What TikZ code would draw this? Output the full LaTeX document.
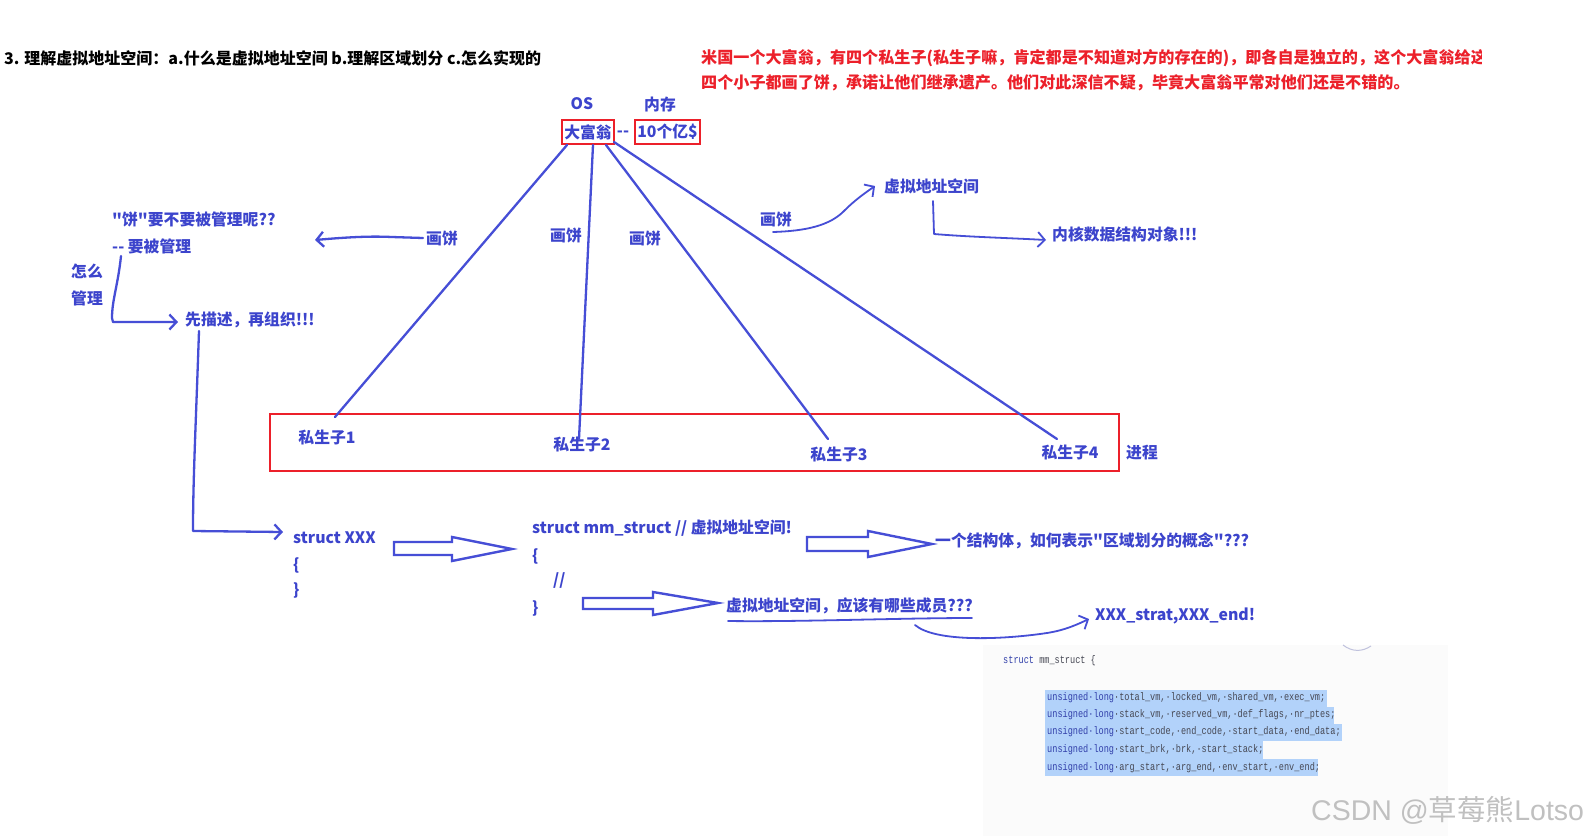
\documentclass[tikz,border=0pt]{standalone}
\usepackage{fontspec}
\newfontfamily\cjk{Noto Sans CJK SC}
\newfontfamily\codefont[FakeStretch=0.78]{Liberation Mono}
\newfontfamily\wmfont{Liberation Sans}
\usetikzlibrary{arrows.meta,calc}
\definecolor{hblue}{RGB}{70,78,214}
\definecolor{htext}{RGB}{60,68,204}
\definecolor{hred}{RGB}{236,32,42}
\definecolor{hlblue}{RGB}{178,210,250}
\definecolor{codekw}{RGB}{50,64,170}
\definecolor{codetxt}{RGB}{70,72,84}
\definecolor{wmgray}{RGB}{192,192,192}
\begin{document}
\begin{tikzpicture}[x=1pt,y=-1pt,
  lbl/.style={font=\cjk\bfseries\fontsize{15.8}{18}\selectfont,text=htext,inner sep=0pt},
  redtxt/.style={font=\cjk\bfseries\fontsize{16.1}{18}\selectfont,text=hred,inner sep=0pt,anchor=west},
  stroke/.style={draw=hblue,line width=2.3pt,line cap=round,line join=round},
  barb/.style={stroke,-{Straight Barb[length=7pt,width=15pt]}},
  redbox/.style={draw=hred,line width=2.4pt},
  hollow/.style={draw=hblue,line width=2.4pt,fill=white,line join=miter},
  codeln/.style={font=\codefont\fontsize{11}{12}\selectfont,text=codetxt,inner sep=0pt,anchor=west},
  hl/.style={fill=hlblue,draw=none}]
\useasboundingbox (0,0) rectangle (1593,836);
\fill[white] (0,0) rectangle (1593,836);

% title
\node[font=\cjk\bfseries\fontsize{16}{18}\selectfont,text=black,inner sep=0pt,anchor=west] (title) at (4,58)
  {3. 理解虚拟地址空间：a.什么是虚拟地址空间 b.理解区域划分 c.怎么实现的};

% red story
\begin{scope}
\clip (690,40) rectangle (1481,72);
\node[redtxt] (story1) at (701,58) {米国一个大富翁，有四个私生子(私生子嘛，肯定都是不知道对方的存在的)，即各自是独立的，这个大富翁给这};
\end{scope}
\node[redtxt] (story2) at (701,83) {四个小子都画了饼，承诺让他们继承遗产。他们对此深信不疑，毕竟大富翁平常对他们还是不错的。};

% OS / memory
\node[lbl] (os) at (582,104) {OS};
\node[lbl] (mem) at (660,104) {内存};
\node[lbl,redbox,minimum width=52pt,minimum height=24pt] (dfw) at (588,132) {大富翁};
\node[lbl] (dash) at (623,134) {--};
\node[lbl,redbox,minimum width=65pt,minimum height=24pt] (money) at (667.5,132) {10个亿\$};

% process box
\node[redbox,minimum width=849pt,minimum height=57pt,inner sep=0pt] (proc) at (694.5,442.5) {};
\node[lbl] (jc) at (1142,453) {进程};
\node[lbl] (s1) at (327,437) {私生子1};
\node[lbl] (s2) at (582,444) {私生子2};
\node[lbl] (s3) at (839,454) {私生子3};
\node[lbl] (s4) at (1070,452) {私生子4};

% four lines
\coordinate (a1) at (567,145); \coordinate (b1) at (335,417);
\coordinate (a2) at (593,145); \coordinate (b2) at (579,439);
\coordinate (a3) at (606,145); \coordinate (b3) at (828,439);
\coordinate (a4) at (614,142); \coordinate (b4) at (1057,439);
\draw[stroke] (a1) -- (b1);
\draw[stroke] (a2) -- (b2);
\draw[stroke] (a3) -- (b3);
\draw[stroke] (a4) -- (b4);

% 画饼 labels
\node[lbl] (hb1) at (442,238) {画饼};
\node[lbl] (hb2) at (566,235) {画饼};
\node[lbl] (hb3) at (645,238) {画饼};
\node[lbl] (hb4) at (776,219) {画饼};

% left annotations
\node[lbl,anchor=west] (q1) at (112,219) {"饼"要不要被管理呢??};
\node[lbl,anchor=west] (q2) at (112,246) {-- 要被管理};
\node[lbl] (zm) at (87,271) {怎么};
\node[lbl] (gl) at (87,298) {管理};
\node[lbl,anchor=west] (ms) at (185,320) {先描述，再组织!!!};

\coordinate (hbl) at (423,238);
\coordinate (hbt) at (315,240);
\draw[barb] (hbl) -- (392,237) .. controls (370,236) and (350,237) .. (hbt);

\coordinate (br0) at (121,256);
\draw[barb] (br0) .. controls (118,285) and (112,300) .. (112,318) -- (113,322) -- (178,322);

\coordinate (ms0) at (199,331);
\draw[barb] (ms0) .. controls (196,420) and (193,480) .. (193,530) -- (193,531) -- (283,532);

% struct XXX
\node[lbl,anchor=west] (sx) at (293,538) {struct XXX};
\node[lbl,anchor=west] (sx1) at (293,565) {\{};
\node[lbl,anchor=west] (sx2) at (293,590) {\}};

\draw[hollow] (394,542) -- (452,542) -- (452,537) -- (512,549) -- (452,561) -- (452,555) -- (394,555) -- cycle;

\node[lbl,anchor=west] (mm) at (532,528) {struct mm\_struct // 虚拟地址空间!};
\node[lbl,anchor=west] (mm1) at (532,556) {\{};
\node[lbl,anchor=west] (mm2) at (553,581) {//};
\node[lbl,anchor=west] (mm3) at (532,608) {\}};

\draw[hollow] (807,537) -- (868,537) -- (868,531) -- (932,544) -- (868,557) -- (868,551) -- (807,551) -- cycle;
\node[lbl,anchor=west] (area) at (935,541) {一个结构体，如何表示"区域划分的概念"???};

\draw[hollow] (583,598) -- (653,598) -- (653,592) -- (718,603) -- (653,615) -- (653,609) -- (583,609) -- cycle;
\node[lbl,anchor=west] (mem2) at (726,606) {虚拟地址空间，应该有哪些成员???};
\coordinate (ul0) at (728,621); \coordinate (ul1) at (972,618);
\draw[stroke,line width=1.8pt] (ul0) .. controls (800,622) and (900,618) .. (ul1);

\node[lbl,anchor=west] (se) at (1095,616) {XXX\_strat,XXX\_end!};
\coordinate (cv0) at (915,625);
\draw[barb,line width=1.8pt] (cv0) .. controls (935,642) and (1000,640) .. (1047,633) .. controls (1066,630) and (1078,624) .. (1089,619);

% top right
\node[lbl,anchor=west] (vas) at (884,186) {虚拟地址空间};
\node[lbl,anchor=west] (kobj) at (1052,234) {内核数据结构对象!!!};
\coordinate (hb4s) at (773,232);
\draw[barb,line width=1.8pt] (hb4s) .. controls (805,231) and (830,226) .. (845,210) .. controls (855,200) and (865,193) .. (875,186);
\coordinate (vd0) at (933,201);
\draw[barb,line width=1.8pt] (vd0) -- (934,234) .. controls (970,237) and (1010,238) .. (1046,240);

% code block
\fill[gray!3] (983,645) rectangle (1448,836);
\draw[draw=gray!50!hblue!40,line width=1pt] (1343,645) .. controls (1352,652) and (1362,652) .. (1371,646);
\node[codeln] (c0) at (1003,661) {\textcolor{codekw}{struct} mm\_struct \{};
\fill[hl] (1045,690) rectangle (1327,707);
\fill[hl] (1045,707) rectangle (1334,724);
\fill[hl] (1045,724) rectangle (1342,741);
\fill[hl] (1045,741) rectangle (1263,759);
\fill[hl] (1045,759) rectangle (1318,776);
\node[codeln] (c1) at (1047,698) {\textcolor{codekw}{unsigned·long}·total\_vm,·locked\_vm,·shared\_vm,·exec\_vm;};
\node[codeln] (c2) at (1047,715) {\textcolor{codekw}{unsigned·long}·stack\_vm,·reserved\_vm,·def\_flags,·nr\_ptes;};
\node[codeln] (c3) at (1047,732) {\textcolor{codekw}{unsigned·long}·start\_code,·end\_code,·start\_data,·end\_data;};
\node[codeln] (c4) at (1047,750) {\textcolor{codekw}{unsigned·long}·start\_brk,·brk,·start\_stack;};
\node[codeln] (c5) at (1047,768) {\textcolor{codekw}{unsigned·long}·arg\_start,·arg\_end,·env\_start,·env\_end;};

% watermark
\node[inner sep=0pt,anchor=west,text=wmgray,font=\wmfont\fontsize{28.5}{32}\selectfont] (wm) at (1311,810) {CSDN @{\cjk 草莓熊}Lotso};
\end{tikzpicture}
\end{document}
